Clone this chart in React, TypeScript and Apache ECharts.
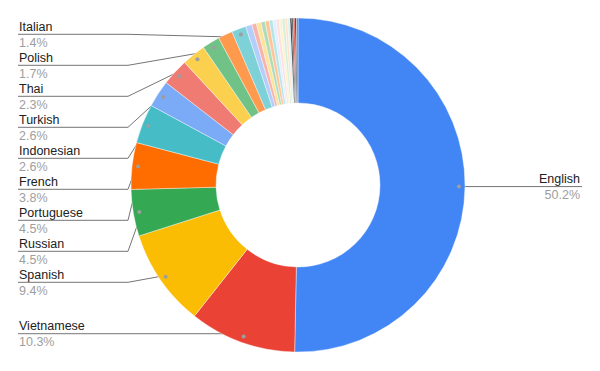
import React, { useEffect, useRef } from "react";
import * as echarts from "echarts";

// ---- data ----
const languages = [
  "English", "Vietnamese", "Spanish", "Russian", "Portuguese", "French",
  "Indonesian", "Turkish", "Thai", "Polish", "German", "Italian",
  "Japanese", "Korean", "Chinese", "Arabic", "Dutch", "Czech",
  "Hungarian", "Romanian", "Greek", "Swedish", "Ukrainian", "Hebrew",
  "Persian", "Malay", "Hindi", "Danish", "Finnish",
];
const shares = [
  50.2, 10.3, 9.4, 4.5, 4.5, 3.8,
  2.6, 2.6, 2.3, 1.7, 1.4, 1.4,
  0.6, 0.45, 0.45, 0.4, 0.4, 0.35,
  0.3, 0.3, 0.28, 0.28, 0.25, 0.25,
  0.15, 0.15, 0.15, 0.15, 0.15,
];
const labeledLanguages = [
  "English", "Vietnamese", "Spanish", "Russian", "Portuguese", "French",
  "Indonesian", "Turkish", "Thai", "Polish", "Italian",
];
const palette = [
  "#4285f4", "#ea4335", "#fbbc04", "#34a853", "#ff6d01", "#46bdc6",
  "#7baaf7", "#f07b72", "#fcd04f", "#71c287", "#ff994d", "#7ed1d7",
  "#b3cefb", "#f7b4ae", "#fde49b", "#aedcba", "#ffc599", "#b5e5e8",
  "#e3edfd", "#fbe1df", "#fef1cd", "#d6eedc", "#ffe2cc", "#daf2f3",
  "#000000", "#434343", "#d93025", "#1c2a48", "#6d7b95",
];

const FONT = 'Arial, "Liberation Sans", sans-serif';
const CX = 298;
const CY = 185;
const R_IN = 82;
const R_OUT = 167;
const DOT_R = 158;
const LEFT_X = 18;
const BEND_L = 128;
const RIGHT_X = 582;
const LABEL_TOP = 34.3;
const LABEL_GAP = 31;
const SNAP = 5;

export default function App() {
  const ref = useRef<HTMLDivElement>(null);

  useEffect(() => {
    if (!ref.current) return;
    const chart = echarts.init(ref.current, null, { renderer: "svg" });

    const isLabeled = (name: string) => labeledLanguages.indexOf(name) >= 0;
    const leftIdx = languages
      .map((n, i) => (isLabeled(n) && i > 0 ? i : -1))
      .filter((i) => i >= 0);

    const mainData = languages.map((name, i) => {
      const show = isLabeled(name);
      return {
        name,
        value: shares[i],
        itemStyle: { color: palette[i % palette.length] },
        label: { show },
        labelLine: { show },
      };
    });
    const dotData = languages.map((name, i) => ({
      name,
      value: shares[i],
      label: { show: isLabeled(name) },
    }));

    chart.setOption({
      animation: false,
      series: [
        {
          type: "pie",
          center: [CX, CY],
          radius: [R_IN, R_OUT],
          startAngle: 90,
          clockwise: true,
          avoidLabelOverlap: false,
          silent: true,
          itemStyle: { borderColor: "#ffffff", borderWidth: 0.4 },
          data: mainData,
          label: {
            position: "outside",
            formatter: (p: any) =>
              `{n|${p.name}}\n{p|${Number(p.value).toFixed(1)}%}`,
            rich: {
              n: { fontSize: 12.5, color: "#212121", lineHeight: 15.5, fontFamily: FONT },
              p: { fontSize: 12.5, color: "#9e9e9e", lineHeight: 15.5, fontFamily: FONT },
            },
          },
          labelLine: {
            show: true,
            length: 10,
            length2: 10,
            smooth: false,
            lineStyle: { color: "#757575", width: 1 },
          },
          labelLayout: (params: any) => {
            const pts = params.labelLinePoints;
            if (!pts) return {};
            const x1 = pts[0][0];
            const y1 = pts[0][1];
            const len = Math.hypot(x1 - CX, y1 - CY) || 1;
            const ux = (x1 - CX) / len;
            const uy = (y1 - CY) / len;
            const px = CX + ux * DOT_R;
            const py = CY + uy * DOT_R;
            if (ux < 0) {
              const rank = leftIdx.filter((i) => i > params.dataIndex).length;
              const slot = LABEL_TOP + rank * LABEL_GAP;
              const y = py - slot < SNAP ? slot : py;
              return {
                x: LEFT_X + 1,
                y: y + 0.5,
                align: "left",
                verticalAlign: "middle",
                labelLinePoints: [[px, py], [BEND_L, y], [LEFT_X, y]],
              };
            }
            const y = py;
            return {
              x: RIGHT_X - 2,
              y: y + 0.5,
              align: "right",
              verticalAlign: "middle",
              labelLinePoints: [[px, py], [px + 10, y], [RIGHT_X, y]],
            };
          },
        },
        {
          type: "pie",
          center: [CX, CY],
          radius: [DOT_R - 8, DOT_R + 8],
          startAngle: 90,
          clockwise: true,
          silent: true,
          avoidLabelOverlap: false,
          itemStyle: { color: "rgba(0,0,0,0)", borderWidth: 0 },
          data: dotData,
          label: {
            position: "inside",
            formatter: "{d|}",
            rich: {
              d: { width: 4, height: 4, borderRadius: 2, backgroundColor: "#9e9e9e" },
            },
          },
          labelLine: { show: false },
        },
      ],
    });

    return () => chart.dispose();
  }, []);

  return (
    <div
      ref={ref}
      style={{ position: "absolute", left: 0, top: 0, width: 600, height: 371, background: "#ffffff" }}
    />
  );
}
